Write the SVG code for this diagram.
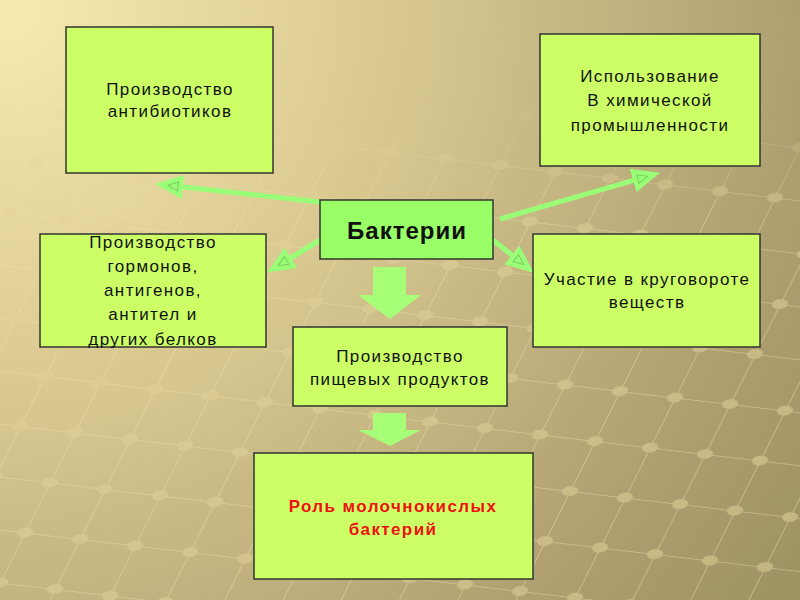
<svg xmlns="http://www.w3.org/2000/svg" width="800" height="600" viewBox="0 0 800 600">
<defs>
<radialGradient id="bg" cx="0" cy="0" r="1150" gradientUnits="userSpaceOnUse">
<stop offset="0" stop-color="#f8eab0"/>
<stop offset="0.35" stop-color="#d8c890"/>
<stop offset="0.7" stop-color="#ad9f70"/>
<stop offset="1" stop-color="#928658"/>
</radialGradient>
<pattern id="grid" width="50" height="50" patternUnits="userSpaceOnUse" patternTransform="matrix(1.1 0.13 -0.5 1.0 0 0)">
<path d="M0 0H50M0 0V50" stroke="#efe2b0" stroke-width="1.5" fill="none"/>
<ellipse cx="0" cy="0" rx="7" ry="5" fill="#e2d29a"/>
<ellipse cx="50" cy="0" rx="7" ry="5" fill="#e2d29a"/>
<ellipse cx="0" cy="50" rx="7" ry="5" fill="#e2d29a"/>
<ellipse cx="50" cy="50" rx="7" ry="5" fill="#e2d29a"/>
</pattern>
<linearGradient id="fadeG" x1="0" y1="90" x2="0" y2="220" gradientUnits="userSpaceOnUse">
<stop offset="0" stop-color="#fff" stop-opacity="0"/>
<stop offset="1" stop-color="#fff" stop-opacity="1"/>
</linearGradient>
<mask id="fade"><rect width="800" height="600" fill="url(#fadeG)"/></mask>
<marker id="ah" viewBox="0 0 28 24" markerWidth="28" markerHeight="24" markerUnits="userSpaceOnUse" refX="15" refY="12" orient="auto">
<path d="M0 0L28 12L0 24Z" fill="#99ff77"/>
<path d="M5 7.5L15 12L5 16.5Z" fill="none" stroke="#7acc5e" stroke-width="1"/>
</marker>
</defs>
<style>
.box{fill:#ccff66;stroke:#333;stroke-width:1.5}
.t{font-family:"Liberation Sans",Arial,sans-serif;font-size:17px;letter-spacing:1.4px;fill:#111;text-anchor:middle}
.r{font-weight:bold;fill:#ee1111}
.conn{stroke:#99ff77;stroke-width:5;fill:none;marker-end:url(#ah)}
.block{fill:#a6ff77}
</style>
<rect width="800" height="600" fill="url(#bg)"/>
<rect width="800" height="600" fill="url(#grid)" opacity="0.55" mask="url(#fade)"/>

<g id="connectors">
<line class="conn" x1="320" y1="202" x2="168" y2="185.3"/>
<line class="conn" x1="500" y1="219" x2="647.5" y2="176.3"/>
<line class="conn" x1="320" y1="240" x2="278.2" y2="265.7"/>
<line class="conn" x1="493" y1="240" x2="523.6" y2="264.5"/>
<polygon class="block" points="373,267 406,267 406,295 421,295 390,319 358,295 373,295"/>
<polygon class="block" points="373,413 406,413 406,430 421,430 390,446 358,430 373,430"/>
</g>

<g id="antibiotics">
<rect class="box" x="66" y="27" width="207" height="146"/>
<text class="t" x="170" y="95">Производство</text>
<text class="t" x="170" y="117">антибиотиков</text>
</g>

<g id="chemical">
<rect class="box" x="540" y="34" width="220" height="132"/>
<text class="t" x="650" y="82">Использование</text>
<text class="t" x="650" y="106">В химической</text>
<text class="t" x="650" y="131">промышленности</text>
</g>

<g id="bacteria">
<rect x="320" y="200" width="173" height="59" fill="#99ff66" stroke="#333" stroke-width="1.5"/>
<text class="t" x="407" y="239" style="font-size:24px;font-weight:bold;letter-spacing:1px">Бактерии</text>
</g>

<g id="hormones">
<rect class="box" x="40" y="234" width="226" height="113"/>
<text class="t" x="153" y="248">Производство</text>
<text class="t" x="153" y="272">гормонов,</text>
<text class="t" x="153" y="296">антигенов,</text>
<text class="t" x="153" y="320">антител и</text>
<text class="t" x="153" y="345">других белков</text>
</g>

<g id="cycle">
<rect class="box" x="533" y="234" width="227" height="113"/>
<text class="t" x="647" y="285">Участие в круговороте</text>
<text class="t" x="647" y="308">веществ</text>
</g>

<g id="food">
<rect class="box" x="293" y="327" width="214" height="79"/>
<text class="t" x="400" y="362">Производство</text>
<text class="t" x="400" y="385">пищевых продуктов</text>
</g>

<g id="lactic">
<rect class="box" x="254" y="453" width="279" height="126"/>
<text class="t r" x="393" y="512">Роль молочнокислых</text>
<text class="t r" x="393" y="535">бактерий</text>
</g>
</svg>
